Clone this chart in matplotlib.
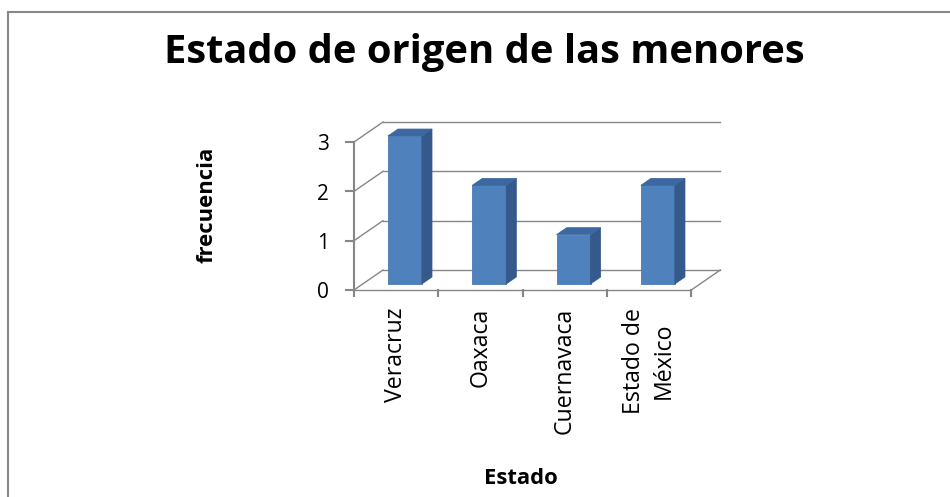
import numpy as np
import matplotlib
matplotlib.use("Agg")
import matplotlib.pyplot as plt
from matplotlib.patches import Polygon
from matplotlib.lines import Line2D

# -------------------------
# datos
# -------------------------
estados = ["Veracruz", "Oaxaca", "Cuernavaca", "Estado de\nMéxico"]
frecuencia = [3, 2, 1, 2]
yticks = [0, 1, 2, 3]

titulo = "Estado de origen de las menores"
xlabel = "Estado"
ylabel = "frecuencia"

plt.rcParams['font.family'] = ['Open Sans', 'DejaVu Sans']

W, H = 950, 497
fig = plt.figure(figsize=(W / 100, H / 100), dpi=100)
fig.patch.set_facecolor("white")

# geometria en pixeles (plano frontal)
px_left, px_right = 354, 691.3   # x = -0.5 .. 3.5
px_y0, px_y3 = 290, 142          # y = 0 .. 3
sx = (px_right - px_left) / len(estados)
sy = (px_y0 - px_y3) / 3.0

xmin, xmax = -0.5, 4.0
ymin, ymax = 0.0, 3.6
ax = fig.add_axes([px_left / W, 1 - px_y0 / H,
                   (xmax - xmin) * sx / W, (ymax - ymin) * sy / H])
ax.set_xlim(xmin, xmax)
ax.set_ylim(ymin, ymax)
ax.set_axis_off()

# profundidad 3D (en unidades de datos)
dx = 29 / sx
dy = 20 / sy
f0, f1 = 0.3, 0.65
bw = 34 / sx

grid_c = "#868686"
lw = 1.0
n = len(estados)
x_lo, x_hi = -0.5, n - 0.5

# paredes / lineas de division
for v in yticks:
    ax.plot([x_lo, x_lo + dx], [v, v + dy], color=grid_c, lw=lw, clip_on=False)
    ax.plot([x_lo + dx, x_hi + dx], [v + dy, v + dy], color=grid_c, lw=lw, clip_on=False)
    # marcas del eje de valores
    ax.plot([x_lo - 8 / sx, x_lo], [v, v], color=grid_c, lw=1.5, clip_on=False)
    ax.text(x_lo - 25 / sx, v - 3 / sy, str(v), ha="right", va="center",
            fontsize=15, color="black")

# piso
ax.plot([x_lo, x_hi], [0, 0], color=grid_c, lw=lw, clip_on=False)
ax.plot([x_hi, x_hi + dx], [0, dy], color=grid_c, lw=lw, clip_on=False)
# eje vertical frontal
ax.plot([x_lo, x_lo], [0, yticks[-1]], color=grid_c, lw=1.5, clip_on=False)

# marcas del eje de categorias
for k in range(n + 1):
    xk = x_lo + k
    ax.plot([xk, xk], [0, -6 / sy], color=grid_c, lw=1.5, clip_on=False)

# barras 3D
front_c = "#4f81bd"
side_c = "#34598a"
top_c = "#3d67a0"
xs = np.arange(n)
ox, oy = f0 * dx, f0 * dy
ddx, ddy = (f1 - f0) * dx, (f1 - f0) * dy
ax.bar(xs + ox, frecuencia, width=bw, bottom=oy, color=front_c,
       edgecolor="#4a7ab5", linewidth=0.6, zorder=3, clip_on=False)
for xi, v in zip(xs, frecuencia):
    xl = xi + ox - bw / 2
    xr = xi + ox + bw / 2
    top = v + oy
    side = Polygon([(xr, oy), (xr + ddx, oy + ddy), (xr + ddx, top + ddy), (xr, top)],
                   closed=True, facecolor=side_c, edgecolor=side_c, lw=0.5,
                   zorder=3, clip_on=False)
    cap = Polygon([(xl, top), (xr, top), (xr + ddx, top + ddy), (xl + ddx, top + ddy)],
                  closed=True, facecolor=top_c, edgecolor=top_c, lw=0.5,
                  zorder=3, clip_on=False)
    ax.add_patch(side)
    ax.add_patch(cap)

# etiquetas de categorias
for xi, lab in zip(xs, estados):
    ax.text(xi, -18 / sy, lab, rotation=90, ha="center", va="top",
            fontsize=16.7, linespacing=1.3, multialignment="center")

# textos
fig.text(484 / W, 1 - 63 / H, titulo, ha="center", va="baseline",
         fontsize=28.7, fontweight="bold")
fig.text(207 / W, 1 - 205 / H, ylabel, ha="center", va="center",
         rotation=90, fontsize=15.8, fontweight="bold")
fig.text(521 / W, 1 - 479 / H, xlabel, ha="center", va="center",
         fontsize=15.8, fontweight="bold")

# marco
fig.add_artist(Line2D([8 / W, 1], [1 - 12 / H, 1 - 12 / H], color="#888888", lw=1.5))
fig.add_artist(Line2D([8 / W, 8 / W], [0, 1 - 12 / H], color="#888888", lw=1.5))

fig.savefig("out.png", dpi=100, facecolor="white")
plt.close(fig)
